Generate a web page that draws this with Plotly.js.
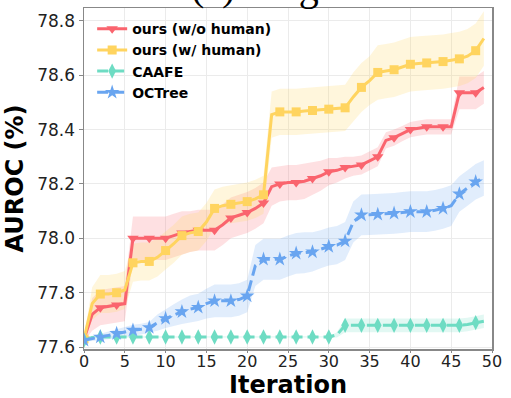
<!DOCTYPE html>
<html>
<head>
<meta charset="utf-8">
<script src="https://cdn.plot.ly/plotly-3.0.1.min.js"></script>
<style>html,body{margin:0;padding:0;background:#fff;}#chart{width:511px;height:398px;}</style>
</head>
<body>
<div id="chart"></div>
<script>
// Iterations 0..49
const iterations = Array.from({length: 50}, (_, i) => i);

const seriesNames = ['ours (w/o human)', 'ours (w/ human)', 'CAAFE', 'OCTree'];

const oursNoHuman = [77.63, 77.72, 77.745, 77.75, 77.755, 77.76, 78.00, 78.00, 78.00, 78.00,
  78.00, 78.01, 78.02, 78.025, 78.03, 78.03, 78.03, 78.05, 78.075, 78.085,
  78.095, 78.11, 78.13, 78.19, 78.20, 78.205, 78.205, 78.21, 78.22, 78.23,
  78.245, 78.25, 78.26, 78.265, 78.27, 78.285, 78.30, 78.36, 78.37, 78.385,
  78.40, 78.405, 78.41, 78.41, 78.41, 78.41, 78.535, 78.535, 78.535, 78.555];
const oursNoHumanStd = [0.01, 0.06, 0.065, 0.065, 0.065, 0.065, 0.08, 0.08, 0.08, 0.08,
  0.08, 0.08, 0.08, 0.075, 0.075, 0.075, 0.075, 0.075, 0.075, 0.075,
  0.075, 0.075, 0.075, 0.07, 0.065, 0.065, 0.065, 0.065, 0.06, 0.055,
  0.05, 0.045, 0.04, 0.035, 0.035, 0.035, 0.035, 0.03, 0.03, 0.028,
  0.028, 0.028, 0.028, 0.028, 0.028, 0.028, 0.06, 0.06, 0.06, 0.06];

const oursHuman = [77.63, 77.76, 77.795, 77.795, 77.80, 77.81, 77.91, 77.915, 77.915, 77.93,
  77.955, 77.98, 78.01, 78.02, 78.025, 78.06, 78.11, 78.12, 78.125, 78.13,
  78.135, 78.145, 78.16, 78.455, 78.465, 78.465, 78.465, 78.468, 78.47, 78.472,
  78.475, 78.478, 78.48, 78.52, 78.555, 78.58, 78.61, 78.615, 78.62, 78.63,
  78.64, 78.643, 78.645, 78.646, 78.65, 78.655, 78.66, 78.67, 78.69, 78.735];
const oursHumanStd = [0.01, 0.06, 0.07, 0.07, 0.07, 0.07, 0.07, 0.07, 0.07, 0.07,
  0.07, 0.07, 0.07, 0.07, 0.07, 0.07, 0.07, 0.07, 0.07, 0.07,
  0.07, 0.07, 0.07, 0.085, 0.085, 0.085, 0.085, 0.085, 0.085, 0.085,
  0.085, 0.085, 0.085, 0.09, 0.09, 0.09, 0.1, 0.1, 0.1, 0.1,
  0.1, 0.1, 0.1, 0.1, 0.1, 0.1, 0.1, 0.1, 0.1, 0.1];

const caafe = [77.625, 77.635, 77.637, 77.637, 77.637, 77.637, 77.637, 77.637, 77.637, 77.637,
  77.637, 77.637, 77.637, 77.637, 77.637, 77.637, 77.637, 77.637, 77.637, 77.637,
  77.637, 77.637, 77.637, 77.637, 77.637, 77.637, 77.637, 77.637, 77.637, 77.637,
  77.637, 77.645, 77.68, 77.68, 77.68, 77.68, 77.68, 77.68, 77.68, 77.68,
  77.68, 77.68, 77.68, 77.68, 77.68, 77.68, 77.68, 77.683, 77.69, 77.695];
const caafeStd = [0.002, 0.003, 0.003, 0.003, 0.003, 0.003, 0.003, 0.003, 0.003, 0.003,
  0.003, 0.003, 0.003, 0.003, 0.003, 0.003, 0.003, 0.003, 0.003, 0.003,
  0.003, 0.003, 0.003, 0.003, 0.003, 0.003, 0.003, 0.003, 0.003, 0.003,
  0.003, 0.01, 0.025, 0.025, 0.025, 0.025, 0.025, 0.025, 0.025, 0.025,
  0.025, 0.025, 0.025, 0.025, 0.025, 0.025, 0.025, 0.025, 0.025, 0.025];

const octree = [77.625, 77.632, 77.637, 77.643, 77.65, 77.656, 77.662, 77.666, 77.672, 77.69,
  77.705, 77.718, 77.73, 77.74, 77.746, 77.76, 77.77, 77.77, 77.77, 77.775,
  77.788, 77.90, 77.923, 77.923, 77.923, 77.935, 77.945, 77.947, 77.95, 77.96,
  77.97, 77.975, 77.99, 78.06, 78.086, 78.087, 78.088, 78.09, 78.092, 78.095,
  78.098, 78.098, 78.098, 78.103, 78.11, 78.12, 78.163, 78.185, 78.208, 78.222];
const octreeStd = [0.005, 0.01, 0.012, 0.014, 0.016, 0.018, 0.02, 0.02, 0.02, 0.03,
  0.035, 0.04, 0.045, 0.05, 0.05, 0.055, 0.06, 0.06, 0.06, 0.06,
  0.06, 0.075, 0.075, 0.075, 0.075, 0.075, 0.075, 0.075, 0.072, 0.07,
  0.07, 0.07, 0.07, 0.075, 0.075, 0.075, 0.075, 0.075, 0.075, 0.075,
  0.075, 0.075, 0.075, 0.075, 0.075, 0.075, 0.065, 0.065, 0.065, 0.065];

const xTicks = [0, 5, 10, 15, 20, 25, 30, 35, 40, 45, 50];
const yTicks = [77.6, 77.8, 78.0, 78.2, 78.4, 78.6, 78.8];
const yTickLabels = ['77.6', '77.8', '78.0', '78.2', '78.4', '78.6', '78.8'];

const series = [
  {name: seriesNames[0], y: oursNoHuman, s: oursNoHumanStd, color: 'rgb(250,100,110)', fill: 'rgba(250,100,110,0.2)', symbol: 'triangle-down', size: 10, dash: 'solid'},
  {name: seriesNames[1], y: oursHuman, s: oursHumanStd, color: 'rgb(255,212,95)', fill: 'rgba(255,212,95,0.22)', symbol: 'square', size: 9, dash: 'solid'},
  {name: seriesNames[2], y: caafe, s: caafeStd, color: 'rgb(110,220,195)', fill: 'rgba(110,220,195,0.2)', symbol: 'diamond-tall', size: 11, dash: '11px,5px'},
  {name: seriesNames[3], y: octree, s: octreeStd, color: 'rgb(105,165,240)', fill: 'rgba(105,165,240,0.2)', symbol: 'star', size: 11, dash: '11px,5px'}
];

const traces = [];
// bands
series.forEach(sr => {
  traces.push({x: iterations, y: sr.y.map((v, i) => v - sr.s[i]), mode: 'lines', line: {width: 0, color: sr.fill}, showlegend: false, hoverinfo: 'skip'});
  traces.push({x: iterations, y: sr.y.map((v, i) => v + sr.s[i]), mode: 'lines', line: {width: 0, color: sr.fill}, fill: 'tonexty', fillcolor: sr.fill, showlegend: false, hoverinfo: 'skip'});
});
// lines + markers
series.forEach(sr => {
  traces.push({x: iterations, y: sr.y, mode: 'lines', line: {width: 3, color: sr.color, dash: sr.dash}, showlegend: false});
  const ex = iterations.filter(i => i % 2 === 0);
  traces.push({x: ex, y: ex.map(i => sr.y[i]), mode: 'markers', marker: {symbol: sr.symbol, size: sr.size, color: sr.color, line: {width: 0}}, showlegend: false});
});
// legend entries
series.forEach(sr => {
  traces.push({x: [null], y: [null], name: sr.name, mode: 'lines+markers', line: {width: 3, color: sr.color, dash: sr.dash}, marker: {symbol: sr.symbol, size: sr.size, color: sr.color}});
});

const layout = {
  width: 511, height: 398,
  margin: {l: 84, r: 19, t: 8, b: 49},
  paper_bgcolor: '#fff', plot_bgcolor: '#fff',
  font: {family: 'DejaVu Sans', color: '#222'},
  xaxis: {
    range: [0, 50], tickvals: xTicks, ticktext: xTicks.map(String),
    tickfont: {size: 16, family: 'DejaVu Sans', color: '#222'},
    showgrid: true, gridcolor: '#ebebeb', gridwidth: 1,
    zeroline: false, showline: true, linecolor: '#888', linewidth: 1.5, mirror: true,
    ticks: 'outside', ticklen: 2, tickcolor: '#888', ticklabelstandoff: -5
  },
  yaxis: {
    range: [77.593, 78.847], tickvals: yTicks, ticktext: yTickLabels,
    tickfont: {size: 17, family: 'DejaVu Sans', color: '#222'},
    showgrid: true, gridcolor: '#ebebeb', gridwidth: 1,
    zeroline: false, showline: true, linecolor: '#888', linewidth: 1.5, mirror: true,
    ticks: 'outside', ticklen: 4, tickcolor: '#888',
    title: {text: 'AUROC (%)', font: {size: 24, family: 'DejaVu Sans', weight: 'bold', color: '#000'}, standoff: 7}
  },
  legend: {
    x: 0.02, y: 0.985, xanchor: 'left', yanchor: 'top', traceorder: 'normal',
    bgcolor: 'rgba(255,255,255,0)', borderwidth: 0,
    font: {size: 14, family: 'DejaVu Sans', weight: 'bold', color: '#000'},
    itemwidth: 30, tracegroupgap: 0
  },
  annotations: [{
    text: '(c) Magic', xref: 'paper', yref: 'paper', x: 0.455, y: 1, yanchor: 'bottom', yshift: -3,
    showarrow: false, font: {family: 'Liberation Serif', size: 40, color: '#000'}
  }, {
    text: 'Iteration', xref: 'paper', yref: 'paper', x: 0.5, y: -0.107, yanchor: 'middle', xanchor: 'center',
    showarrow: false, font: {family: 'DejaVu Sans', size: 24, weight: 'bold', color: '#000'}
  }]
};

Plotly.newPlot('chart', traces, layout, {displayModeBar: false, staticPlot: true});
</script>
</body>
</html>
